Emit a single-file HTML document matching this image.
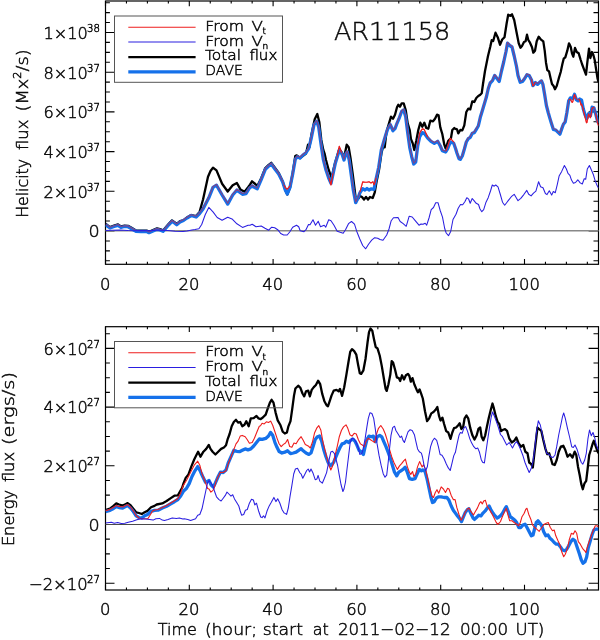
<!DOCTYPE html>
<html lang="en"><head><meta charset="utf-8"><title>AR11158 helicity and energy flux</title>
<style>html,body{margin:0;padding:0;background:#fff}svg{display:block}text{font-family:"DejaVu Sans Light","DejaVu Sans","Liberation Sans",sans-serif;font-weight:200;fill:#0a0a0a;stroke:#0a0a0a;stroke-width:0.5px}.fr{fill:none;stroke:#000;stroke-width:1.2}.tk{stroke:#000;stroke-width:1.1;fill:none}.c{fill:none;stroke-linejoin:round;stroke-linecap:butt}.k{stroke:#000;stroke-width:2.3}.d{stroke:#1571ea;stroke-width:3.3}.r{stroke:#ee1c1c;stroke-width:1.1}.b{stroke:#2a1ee0;stroke-width:1.05}.rf{stroke:#e01c30;stroke-width:1.1;stroke-opacity:.55}</style></head><body>
<svg width="600" height="640" viewBox="0 0 600 640">
<rect width="600" height="640" fill="#fff"/>
<clipPath id="c1"><rect x="105.5" y="1.0" width="493.0" height="263.3"/></clipPath>
<path class="tk" d="M105.50 264.3v-5.2M105.50 1.0v5.2M126.45 264.3v-2.6M126.45 1.0v2.6M147.40 264.3v-2.6M147.40 1.0v2.6M168.35 264.3v-2.6M168.35 1.0v2.6M189.30 264.3v-5.2M189.30 1.0v5.2M210.25 264.3v-2.6M210.25 1.0v2.6M231.20 264.3v-2.6M231.20 1.0v2.6M252.15 264.3v-2.6M252.15 1.0v2.6M273.10 264.3v-5.2M273.10 1.0v5.2M294.05 264.3v-2.6M294.05 1.0v2.6M315.00 264.3v-2.6M315.00 1.0v2.6M335.95 264.3v-2.6M335.95 1.0v2.6M356.90 264.3v-5.2M356.90 1.0v5.2M377.85 264.3v-2.6M377.85 1.0v2.6M398.80 264.3v-2.6M398.80 1.0v2.6M419.75 264.3v-2.6M419.75 1.0v2.6M440.70 264.3v-5.2M440.70 1.0v5.2M461.65 264.3v-2.6M461.65 1.0v2.6M482.60 264.3v-2.6M482.60 1.0v2.6M503.55 264.3v-2.6M503.55 1.0v2.6M524.50 264.3v-5.2M524.50 1.0v5.2M545.45 264.3v-2.6M545.45 1.0v2.6M566.40 264.3v-2.6M566.40 1.0v2.6M587.35 264.3v-2.6M587.35 1.0v2.6M105.5 260.77h4.4M598.5 260.77h-5.0M105.5 250.85h4.4M598.5 250.85h-5.0M105.5 240.93h4.4M598.5 240.93h-5.0M105.5 231.00h9.0M598.5 231.00h-9.9M105.5 221.07h4.4M598.5 221.07h-5.0M105.5 211.15h4.4M598.5 211.15h-5.0M105.5 201.22h4.4M598.5 201.22h-5.0M105.5 191.30h9.0M598.5 191.30h-9.9M105.5 181.38h4.4M598.5 181.38h-5.0M105.5 171.45h4.4M598.5 171.45h-5.0M105.5 161.52h4.4M598.5 161.52h-5.0M105.5 151.60h9.0M598.5 151.60h-9.9M105.5 141.68h4.4M598.5 141.68h-5.0M105.5 131.75h4.4M598.5 131.75h-5.0M105.5 121.82h4.4M598.5 121.82h-5.0M105.5 111.90h9.0M598.5 111.90h-9.9M105.5 101.97h4.4M598.5 101.97h-5.0M105.5 92.05h4.4M598.5 92.05h-5.0M105.5 82.12h4.4M598.5 82.12h-5.0M105.5 72.20h9.0M598.5 72.20h-9.9M105.5 62.27h4.4M598.5 62.27h-5.0M105.5 52.35h4.4M598.5 52.35h-5.0M105.5 42.42h4.4M598.5 42.42h-5.0M105.5 32.50h9.0M598.5 32.50h-9.9M105.5 22.57h4.4M598.5 22.57h-5.0M105.5 12.65h4.4M598.5 12.65h-5.0M105.5 2.72h4.4M598.5 2.72h-5.0"/>
<rect class="fr" x="105.5" y="1.0" width="493.0" height="263.3"/>
<line x1="105.5" x2="598.5" y1="230.7" y2="230.7" stroke="#888" stroke-width="1.5"/>
<g clip-path="url(#c1)">
<polyline class="c k" points="105.5,223.8 110.0,227.1 114.0,225.6 118.0,224.4 121.0,226.4 124.5,225.6 128.0,225.8 132.0,228.1 136.0,230.4 141.0,230.6 146.7,230.6 149.0,231.8 153.0,230.1 157.0,228.4 160.0,229.1 163.0,230.4 166.0,227.1 169.0,223.6 172.0,220.4 174.5,222.1 176.7,223.8 180.0,221.1 183.4,220.3 187.0,217.5 191.2,215.0 196.1,216.1 199.6,211.9 203.1,199.2 208.0,176.7 210.5,171.0 213.0,167.6 216.5,170.4 222.1,183.8 227.7,191.5 232.7,185.2 236.9,183.0 240.4,189.4 244.6,191.8 248.1,187.3 250.0,184.7 252.0,181.3 255.3,184.0 257.3,186.0 261.3,178.0 265.3,168.0 268.7,164.8 271.3,162.8 274.7,167.5 278.7,173.0 282.7,181.5 285.3,190.0 287.3,194.5 290.0,187.5 292.7,173.0 295.3,156.0 296.7,155.3 300.0,158.0 302.7,156.0 306.0,153.5 308.0,144.7 309.5,147.0 311.3,135.3 314.7,119.3 317.3,114.0 319.3,122.0 321.3,140.0 323.3,150.0 324.7,154.0 326.0,160.0 328.7,170.0 330.7,175.3 331.5,180.0 333.3,170.0 335.3,162.0 337.3,155.5 339.3,149.0 342.0,153.0 344.0,158.0 346.7,144.7 348.7,147.3 350.7,159.3 352.7,174.0 354.7,190.0 356.0,201.0 358.0,199.0 360.0,196.0 362.0,197.0 364.0,199.5 366.0,197.0 368.0,199.5 370.0,197.0 372.7,198.0 374.7,192.7 376.5,182.0 379.0,170.0 381.5,153.0 383.0,147.0 384.7,147.3 386.0,136.0 387.0,130.0 389.0,123.3 391.0,116.7 393.0,118.7 395.0,114.7 397.0,107.3 398.3,104.7 400.0,106.7 401.7,103.3 403.7,103.3 405.7,110.0 407.7,123.3 409.7,130.0 411.0,139.3 412.7,143.3 414.3,150.0 416.3,140.7 418.3,130.0 420.3,122.7 422.3,126.7 424.3,122.7 426.3,128.0 428.3,128.7 430.3,120.7 433.0,121.3 435.0,118.7 437.0,114.7 438.6,115.3 440.3,127.3 442.3,134.0 444.3,144.7 445.7,148.7 448.3,140.7 451.0,138.0 452.3,130.0 454.3,128.0 455.0,128.7 457.0,129.3 458.3,133.3 460.3,130.0 462.3,130.4 464.3,125.3 466.3,112.0 468.3,108.7 470.3,109.3 472.3,101.3 474.3,102.0 476.3,98.0 478.3,96.0 480.3,94.7 481.7,93.3 483.0,84.0 485.0,71.0 488.0,56.0 490.2,47.0 491.7,40.2 493.2,41.0 495.5,32.7 497.7,37.2 500.0,44.7 502.2,39.5 504.5,37.2 506.7,23.0 508.2,14.7 510.2,15.8 512.0,14.3 514.2,20.0 516.5,32.0 518.7,43.2 520.5,47.7 522.0,46.0 524.0,42.0 525.6,41.3 527.0,34.7 528.3,40.0 530.0,42.7 532.0,47.3 533.3,52.7 535.0,50.7 536.7,41.3 538.7,36.7 540.7,39.3 543.3,41.3 544.7,50.7 546.0,62.7 547.3,70.0 549.0,71.3 550.7,78.7 552.0,84.0 553.6,86.0 555.0,89.3 556.7,86.0 558.7,78.7 560.7,72.0 562.4,64.0 563.7,58.7 565.3,57.3 567.3,50.7 569.0,43.3 570.7,46.7 572.0,53.3 573.3,56.7 575.0,48.0 576.7,52.0 578.7,53.3 580.7,60.0 582.0,64.0 584.0,69.3 586.0,74.7 587.3,62.7 589.0,48.7 590.4,58.0 592.0,52.0 593.3,54.7 594.7,60.0 596.3,70.7 597.6,78.7 598.5,82.0"/>
<polyline class="c d" points="105.5,224.7 110.0,228.0 114.0,226.5 118.0,225.3 121.0,227.3 124.5,226.5 128.0,226.7 132.0,229.0 136.0,231.3 141.0,231.5 146.7,231.5 149.0,232.7 153.0,231.0 157.0,229.3 160.0,230.0 163.0,231.3 166.0,228.0 169.0,224.5 172.0,221.3 174.5,223.0 176.7,224.7 180.0,222.0 183.4,220.5 187.0,218.0 191.2,215.5 196.1,217.0 199.6,213.5 203.0,209.0 208.8,197.8 213.0,187.3 216.5,185.2 222.1,195.0 227.7,204.1 232.7,195.0 236.9,190.1 242.5,194.3 246.0,193.6 249.5,188.0 252.4,185.9 253.3,186.7 257.3,188.7 261.3,179.3 265.3,169.3 268.7,166.0 271.3,164.0 274.7,168.7 278.7,174.0 282.7,182.0 285.3,190.0 287.3,194.0 290.0,187.3 292.7,174.0 295.3,159.3 297.3,156.7 300.0,158.0 302.7,155.3 306.0,152.7 308.7,148.7 311.3,138.0 314.0,124.7 316.7,121.3 318.7,127.3 321.3,146.0 323.3,159.3 326.0,170.0 328.7,178.0 331.0,183.3 333.3,172.7 335.3,163.3 337.3,156.7 339.3,150.0 342.0,154.0 344.0,160.0 346.0,153.3 347.3,152.0 349.3,160.7 351.3,175.3 353.3,190.0 355.7,202.7 358.0,198.0 360.0,192.7 362.7,188.7 365.0,190.0 367.0,188.5 369.0,190.0 371.0,188.8 374.0,189.3 376.0,179.3 378.7,167.3 381.3,150.0 384.0,140.7 386.0,134.0 387.7,129.0 390.3,124.7 393.0,130.7 395.0,128.7 397.0,123.3 399.0,118.7 401.7,111.3 403.7,110.0 405.7,116.7 407.7,132.7 409.7,147.3 411.7,156.7 413.7,164.0 415.7,162.0 417.7,146.0 419.7,136.7 422.3,132.7 424.3,133.3 427.7,138.0 431.0,141.3 434.3,143.3 437.7,141.3 440.3,146.0 442.3,150.7 445.7,152.0 447.7,148.7 450.3,142.0 453.7,143.3 455.7,149.0 457.0,153.3 459.0,158.7 460.3,159.3 462.3,156.0 464.3,149.3 466.3,142.0 468.3,138.7 470.3,137.3 472.3,133.3 474.3,132.7 476.3,129.3 478.3,126.0 480.3,117.3 482.3,110.7 484.3,104.0 486.3,97.3 488.3,88.5 490.2,83.0 492.5,80.7 494.7,75.5 497.0,78.5 499.2,81.5 501.5,71.0 503.7,62.0 506.0,51.5 507.5,43.2 509.7,45.5 512.0,47.0 514.2,56.0 516.5,66.5 518.0,75.5 520.2,82.2 522.5,81.5 524.7,78.5 527.0,74.7 529.2,75.5 531.5,80.0 532.9,85.6 535.3,82.6 537.6,84.4 539.4,82.6 541.5,80.9 542.9,84.4 544.7,94.9 546.4,105.5 548.2,112.5 549.9,118.4 551.7,124.2 553.4,129.5 555.8,130.1 558.1,132.4 559.9,134.2 561.7,128.9 563.4,124.2 565.2,121.9 566.9,112.5 568.7,100.8 570.4,97.9 572.8,98.4 574.5,94.3 576.3,99.6 578.1,100.8 579.8,99.0 581.6,100.2 583.3,109.0 585.1,114.9 586.9,118.4 588.6,113.7 590.4,116.0 592.1,107.2 593.9,107.8 595.6,113.7 597.4,120.7 598.5,123.0"/>
<polyline class="c rf" points="105.5,223.9 110.0,227.2 114.0,225.7 118.0,224.5 121.0,226.5 124.5,225.7 128.0,225.9 132.0,228.2 136.0,230.5 141.0,230.7 146.7,230.7 149.0,231.9 153.0,230.2 157.0,228.5 160.0,229.2 163.0,230.5 166.0,227.2 169.0,223.7 172.0,220.5 174.5,222.2 176.7,223.9 180.0,221.2 183.4,219.7 187.0,217.2 191.2,214.7 196.1,216.2 199.6,212.7 203.0,208.2 208.8,197.0 213.0,186.5 216.5,184.4 222.1,194.2 227.7,203.3 232.7,194.2 236.9,189.3 242.5,193.5 246.0,192.8 249.5,187.2 252.4,185.1 253.3,185.9 257.3,187.9 261.3,178.5 265.3,168.5 268.7,165.2 271.3,163.2 274.7,167.9 278.7,173.2 282.7,181.2 284.0,185.2 285.3,187.6 287.3,189.2 290.0,185.9 290.5,184.0 292.7,173.2 295.3,158.5 297.3,155.9 300.0,157.2 302.7,154.5 306.0,151.9 308.7,147.9 311.3,137.2 314.0,123.9 316.7,120.5 318.7,126.5 321.3,145.2 323.3,158.5 326.0,169.2 328.7,177.2 329.0,177.9 331.0,185.0 333.0,173.3 333.3,171.9 335.3,162.5 337.0,156.9 337.3,155.5 339.3,146.2 341.5,152.5 342.0,153.2 344.0,159.2 346.0,152.5 347.3,151.2 349.3,159.9 351.3,174.5 353.3,189.2 355.7,201.9 358.0,197.2 360.0,191.9 362.7,181.9 365.0,182.2 367.0,182.2 369.0,181.7 371.0,183.0 373.0,181.8 374.0,184.8 375.0,182.5 376.0,178.0 377.0,174.1 378.7,166.5 381.3,149.2 384.0,139.9 386.0,133.2 387.7,128.2 390.3,123.9 393.0,129.9 395.0,127.9 397.0,122.5 399.0,117.9 401.7,110.5 403.7,109.2 405.7,115.9 407.7,131.9 409.7,146.5 411.7,155.9 413.7,163.2 415.7,161.2 417.0,150.8 417.7,144.5 419.7,133.2 420.0,132.4 422.3,128.9 424.0,129.4 424.3,129.7 427.7,137.0 428.0,137.5 431.0,140.5 434.3,142.5 437.7,140.5 440.3,145.2 442.3,149.9 445.7,151.2 446.0,150.7 447.7,146.6 450.0,139.0 450.3,138.4 453.0,141.2 453.7,141.7 455.7,148.1 456.0,149.2 457.0,152.5 459.0,157.9 460.3,158.5 462.3,155.2 464.3,148.5 466.3,141.2 468.3,137.9 470.3,136.5 472.3,132.5 474.3,131.9 476.3,128.5 478.3,125.2 480.3,116.5 482.3,109.9 484.3,103.2 486.3,96.5 488.3,87.7 490.2,82.2 492.5,79.9 494.7,74.7 497.0,77.7 499.2,80.7 501.5,70.2 503.7,61.2 506.0,50.7 507.5,42.4 509.7,44.7 512.0,46.2 514.2,55.2 516.5,65.7 518.0,74.7 520.2,81.4 522.5,80.7 524.7,77.7 527.0,73.9 529.2,74.7 531.0,78.2 531.5,79.5 532.9,85.9 533.7,85.3 535.3,82.3 536.0,82.3 537.6,83.6 539.4,81.8 541.5,80.1 542.9,83.6 544.7,94.1 546.4,104.7 548.2,111.7 549.9,117.6 551.7,123.4 553.4,128.7 555.8,129.3 558.1,131.6 559.9,133.4 561.7,128.1 563.4,123.4 565.2,121.1 566.9,111.7 568.7,100.0 569.0,99.5 570.4,99.3 572.2,102.5 572.8,101.6 574.5,94.5 576.3,99.1 577.0,99.3 578.1,100.0 579.0,99.0 579.8,100.6 581.0,105.0 581.6,104.2 583.0,108.6 583.3,110.3 585.0,116.8 585.1,117.3 586.5,122.8 586.9,122.6 588.6,113.9 590.4,117.7 591.0,115.1 592.1,108.3 593.9,107.1 594.0,107.3 595.6,113.7 596.0,115.5 597.4,122.3 598.5,125.7"/>
<polyline class="c r" points="284.0,185.2 285.3,187.6 287.3,189.2 290.0,185.9"/>
<polyline class="c r" points="329.0,177.9 331.0,185.0 333.0,173.3"/>
<polyline class="c r" points="337.3,155.5 339.3,146.2 341.5,152.5"/>
<polyline class="c r" points="360.0,191.9 362.7,181.9 365.0,182.2 367.0,182.2 369.0,181.7 371.0,183.0 373.0,181.8 374.0,184.8 375.0,182.5 376.0,178.0"/>
<polyline class="c r" points="417.7,144.5 419.7,133.2 420.0,132.4 422.3,128.9 424.0,129.4 424.3,129.7 427.7,137.0"/>
<polyline class="c r" points="446.0,150.7 447.7,146.6 450.0,139.0 450.3,138.4 453.0,141.2 453.7,141.7"/>
<polyline class="c r" points="531.5,79.5 532.9,85.9 533.7,85.3 535.3,82.3"/>
<polyline class="c r" points="569.0,99.5 570.4,99.3 572.2,102.5 572.8,101.6 574.5,94.5 576.3,99.1"/>
<polyline class="c r" points="579.0,99.0 579.8,100.6 581.0,105.0 581.6,104.2 583.0,108.6 583.3,110.3 585.0,116.8 585.1,117.3 586.5,122.8 586.9,122.6 588.6,113.9 590.4,117.7 591.0,115.1 592.1,108.3 593.9,107.1"/>
<polyline class="c r" points="595.6,113.7 596.0,115.5 597.4,122.3 598.5,125.7"/>
<polyline class="c b" points="105.5,230.5 112.0,230.2 120.0,230.0 128.0,230.6 135.0,230.8 142.0,230.4 150.0,230.8 156.0,230.2 160.0,230.3 168.0,230.5 175.0,231.3 183.0,231.6 187.0,231.0 191.9,229.9 195.0,229.6 198.9,228.8 201.7,224.5 205.2,214.7 208.8,207.4 213.0,211.9 217.2,217.5 222.1,220.3 227.7,217.2 232.0,218.9 236.9,223.8 242.5,227.4 248.1,225.2 250.0,225.2 252.2,224.2 256.0,226.7 261.2,226.0 265.0,228.2 268.7,230.2 271.7,227.2 274.7,227.8 277.7,229.7 280.7,233.5 283.7,235.0 287.2,235.0 289.7,232.0 292.7,227.2 296.5,225.2 298.7,226.7 300.2,230.8 304.0,231.7 306.2,229.3 308.5,224.5 310.0,224.8 313.0,219.7 315.5,225.2 318.2,221.2 320.5,226.7 324.2,225.2 325.7,227.2 328.7,219.7 331.0,220.7 334.0,225.2 337.2,231.2 340.2,232.3 343.2,233.2 345.5,229.7 348.5,223.7 351.5,221.5 354.5,224.2 356.7,231.2 359.7,238.7 362.7,245.5 365.7,248.8 368.7,244.0 371.7,240.2 374.7,237.7 377.7,238.3 380.0,239.5 383.0,240.2 386.7,235.0 389.0,229.0 391.2,220.7 393.5,217.7 398.0,217.4 400.2,221.5 403.2,223.7 406.2,226.3 409.2,216.2 412.2,217.0 415.2,220.7 419.0,225.2 421.0,224.0 423.0,224.3 425.2,223.2 426.7,225.2 429.0,218.0 431.2,209.7 433.5,207.5 435.7,202.7 438.0,202.7 440.2,210.5 442.5,217.2 444.7,228.5 446.2,233.0 448.5,235.7 450.7,231.5 453.0,219.5 456.0,214.2 458.2,208.2 460.5,204.5 462.7,204.8 465.0,201.5 466.8,197.7 468.7,199.2 470.2,203.3 472.2,198.5 474.0,200.7 476.2,203.3 478.5,204.5 480.0,209.0 481.8,211.7 483.7,209.7 486.0,202.2 488.2,197.7 490.5,191.0 492.3,185.0 494.2,186.2 495.7,185.0 498.0,186.8 500.2,194.0 502.5,202.2 504.7,205.2 507.0,202.2 508.2,200.7 511.3,196.7 514.2,194.3 516.1,197.5 518.0,200.7 520.8,198.3 524.0,194.3 526.8,190.4 528.7,194.3 531.1,195.9 533.5,193.1 535.9,191.2 538.6,181.7 540.6,186.7 543.0,187.7 545.4,193.5 547.0,194.6 549.3,190.8 551.7,195.1 553.3,191.5 555.3,192.7 557.2,184.8 559.1,176.1 561.7,171.4 564.4,165.5 566.4,169.0 568.0,173.4 569.9,175.3 571.5,180.1 573.4,183.2 575.5,182.5 577.8,179.8 580.2,182.9 582.3,184.0 584.2,178.8 585.7,179.3 587.3,169.0 589.4,165.5 591.3,169.8 593.3,174.5 595.2,180.9 597.1,185.6 598.5,188.0"/>
</g>
<text x="105.2" y="289.5" font-size="16.4" text-anchor="middle">0</text>
<text x="189.0" y="289.5" font-size="16.4" text-anchor="middle">20</text>
<text x="272.8" y="289.5" font-size="16.4" text-anchor="middle">40</text>
<text x="356.6" y="289.5" font-size="16.4" text-anchor="middle">60</text>
<text x="440.4" y="289.5" font-size="16.4" text-anchor="middle">80</text>
<text x="524.2" y="289.5" font-size="16.4" text-anchor="middle">100</text>
<text x="43.4" y="38.8" font-size="16.4" textLength="44.4" lengthAdjust="spacingAndGlyphs">1×10</text>
<text x="87.0" y="31.8" font-size="10.6" textLength="12.9" lengthAdjust="spacingAndGlyphs">38</text>
<text x="43.4" y="78.5" font-size="16.4" textLength="44.4" lengthAdjust="spacingAndGlyphs">8×10</text>
<text x="87.0" y="71.5" font-size="10.6" textLength="12.9" lengthAdjust="spacingAndGlyphs">37</text>
<text x="43.4" y="118.2" font-size="16.4" textLength="44.4" lengthAdjust="spacingAndGlyphs">6×10</text>
<text x="87.0" y="111.2" font-size="10.6" textLength="12.9" lengthAdjust="spacingAndGlyphs">37</text>
<text x="43.4" y="157.9" font-size="16.4" textLength="44.4" lengthAdjust="spacingAndGlyphs">4×10</text>
<text x="87.0" y="150.9" font-size="10.6" textLength="12.9" lengthAdjust="spacingAndGlyphs">37</text>
<text x="43.4" y="197.6" font-size="16.4" textLength="44.4" lengthAdjust="spacingAndGlyphs">2×10</text>
<text x="87.0" y="190.6" font-size="10.6" textLength="12.9" lengthAdjust="spacingAndGlyphs">37</text>
<text x="88.5" y="237.3" font-size="16.4" textLength="11.2" lengthAdjust="spacingAndGlyphs">0</text>
<rect x="114.5" y="16" width="168" height="66.3" fill="none" stroke="#555" stroke-width="1"/>
<line class="c r" x1="128.3" x2="195.6" y1="27.2" y2="27.2"/>
<line class="c b" x1="128.3" x2="195.6" y1="41.9" y2="41.9"/>
<line class="c k" x1="128.3" x2="195.6" y1="57.1" y2="57.1"/>
<line class="c d" x1="128.3" x2="195.6" y1="71.8" y2="71.8"/>
<text x="205.3" y="30.8" font-size="14.4" textLength="38.7" lengthAdjust="spacingAndGlyphs">From</text>
<text x="251.6" y="30.8" font-size="14.4" textLength="11.4" lengthAdjust="spacingAndGlyphs">V</text>
<text x="262.4" y="34.4" font-size="9">t</text>
<text x="205.3" y="45.5" font-size="14.4" textLength="38.7" lengthAdjust="spacingAndGlyphs">From</text>
<text x="251.6" y="45.5" font-size="14.4" textLength="11.4" lengthAdjust="spacingAndGlyphs">V</text>
<text x="262.4" y="49.1" font-size="9">n</text>
<text x="204.9" y="60.3" font-size="14.4" textLength="36.1" lengthAdjust="spacingAndGlyphs">Total</text>
<text x="249.4" y="60.3" font-size="14.4" textLength="27.9" lengthAdjust="spacingAndGlyphs">flux</text>
<text x="205.3" y="75.3" font-size="14.4" textLength="37.4" lengthAdjust="spacingAndGlyphs">DAVE</text>
<text transform="translate(28.4,217.8) rotate(-90)" font-size="16.4" textLength="58.8" lengthAdjust="spacingAndGlyphs">Helicity</text>
<text transform="translate(28.4,149.9) rotate(-90)" font-size="16.4" textLength="30.2" lengthAdjust="spacingAndGlyphs">flux</text>
<text transform="translate(28.4,111.5) rotate(-90)" font-size="16.4" textLength="62.2" lengthAdjust="spacingAndGlyphs">(Mx<tspan font-size="10.4" dy="-7">2</tspan><tspan dy="7">/s)</tspan></text>
<text style="stroke-width:0.4px" x="333.9" y="40.0" font-size="24" textLength="116.4" lengthAdjust="spacingAndGlyphs">AR11158</text>
<clipPath id="c326"><rect x="105.5" y="326.7" width="493.0" height="263.3"/></clipPath>
<path class="tk" d="M105.50 590.0v-5.2M105.50 326.7v5.2M126.45 590.0v-2.6M126.45 326.7v2.6M147.40 590.0v-2.6M147.40 326.7v2.6M168.35 590.0v-2.6M168.35 326.7v2.6M189.30 590.0v-5.2M189.30 326.7v5.2M210.25 590.0v-2.6M210.25 326.7v2.6M231.20 590.0v-2.6M231.20 326.7v2.6M252.15 590.0v-2.6M252.15 326.7v2.6M273.10 590.0v-5.2M273.10 326.7v5.2M294.05 590.0v-2.6M294.05 326.7v2.6M315.00 590.0v-2.6M315.00 326.7v2.6M335.95 590.0v-2.6M335.95 326.7v2.6M356.90 590.0v-5.2M356.90 326.7v5.2M377.85 590.0v-2.6M377.85 326.7v2.6M398.80 590.0v-2.6M398.80 326.7v2.6M419.75 590.0v-2.6M419.75 326.7v2.6M440.70 590.0v-5.2M440.70 326.7v5.2M461.65 590.0v-2.6M461.65 326.7v2.6M482.60 590.0v-2.6M482.60 326.7v2.6M503.55 590.0v-2.6M503.55 326.7v2.6M524.50 590.0v-5.2M524.50 326.7v5.2M545.45 590.0v-2.6M545.45 326.7v2.6M566.40 590.0v-2.6M566.40 326.7v2.6M587.35 590.0v-2.6M587.35 326.7v2.6M105.5 583.20h9.0M598.5 583.20h-9.9M105.5 568.52h4.4M598.5 568.52h-5.0M105.5 553.85h4.4M598.5 553.85h-5.0M105.5 539.17h4.4M598.5 539.17h-5.0M105.5 524.50h9.0M598.5 524.50h-9.9M105.5 509.82h4.4M598.5 509.82h-5.0M105.5 495.15h4.4M598.5 495.15h-5.0M105.5 480.48h4.4M598.5 480.48h-5.0M105.5 465.80h9.0M598.5 465.80h-9.9M105.5 451.12h4.4M598.5 451.12h-5.0M105.5 436.45h4.4M598.5 436.45h-5.0M105.5 421.77h4.4M598.5 421.77h-5.0M105.5 407.10h9.0M598.5 407.10h-9.9M105.5 392.42h4.4M598.5 392.42h-5.0M105.5 377.75h4.4M598.5 377.75h-5.0M105.5 363.07h4.4M598.5 363.07h-5.0M105.5 348.40h9.0M598.5 348.40h-9.9M105.5 333.73h4.4M598.5 333.73h-5.0"/>
<rect class="fr" x="105.5" y="326.7" width="493.0" height="263.3"/>
<line x1="105.5" x2="598.5" y1="524.5" y2="524.5" stroke="#4a4a4a" stroke-width="1.0"/>
<g clip-path="url(#c326)">
<polyline class="c k" points="105.5,510.2 109.9,508.7 113.5,505.9 116.3,503.4 119.1,504.5 122.7,505.6 125.5,504.2 127.6,503.1 130.5,505.2 133.3,508.7 136.1,512.3 139.0,513.0 141.8,514.0 144.6,512.3 147.5,510.9 151.0,507.3 154.5,505.9 156.7,504.5 162.3,503.4 166.6,501.0 170.8,498.1 174.4,495.7 177.9,495.3 180.7,490.3 182.1,487.8 183.6,483.2 185.7,477.9 188.5,474.4 191.3,466.6 194.2,459.5 196.3,455.2 198.1,451.7 200.5,456.7 203.4,451.7 206.2,448.9 208.8,445.0 210.5,448.9 212.6,451.7 215.4,454.5 218.2,451.7 221.1,448.9 223.9,447.5 226.0,445.3 227.5,439.7 229.6,434.0 231.7,426.2 233.8,422.0 236.0,419.8 238.1,422.7 240.2,422.0 242.3,426.2 244.5,424.8 246.3,421.2 248.7,426.2 250.8,418.4 253.7,418.1 256.5,415.9 258.6,418.4 260.7,419.1 262.8,417.5 265.7,414.7 267.8,408.3 269.9,402.7 271.6,399.8 273.5,402.7 275.6,412.6 277.7,420.4 280.5,425.3 282.7,431.7 284.8,433.5 286.9,432.4 288.3,426.7 290.5,421.1 292.3,408.3 294.0,395.6 295.4,388.5 298.2,385.7 300.4,387.8 302.5,393.5 304.2,396.3 306.0,391.3 308.2,390.6 309.9,396.3 311.7,389.9 313.8,387.1 315.9,385.0 318.1,380.7 320.2,384.2 322.3,394.2 324.4,401.2 326.6,405.2 328.0,406.2 329.7,401.2 331.5,395.6 333.7,390.6 336.5,389.9 338.6,391.3 340.0,388.9 342.1,395.8 344.2,387.3 346.4,374.6 348.5,361.8 350.2,351.9 352.0,349.1 354.2,351.2 356.3,354.7 358.1,364.7 359.8,373.2 361.2,373.9 363.4,370.3 365.5,359.0 367.6,342.0 369.0,332.1 370.5,328.5 372.3,330.7 374.0,339.2 375.7,347.0 377.5,348.4 379.7,355.5 381.8,366.1 383.9,378.8 385.6,388.7 386.7,390.9 388.4,384.5 390.3,374.6 391.7,361.1 393.1,362.5 395.2,370.3 396.9,377.4 398.8,378.1 400.2,381.0 402.0,375.3 404.0,379.5 405.9,375.3 408.0,373.9 409.4,376.0 410.8,381.7 412.5,378.1 414.4,384.5 416.5,389.4 417.9,392.3 419.6,389.4 421.4,394.4 422.8,398.5 425.0,411.2 427.1,421.2 429.2,418.3 431.3,413.4 433.5,412.0 435.6,409.8 437.3,407.0 439.1,416.2 440.5,420.5 442.4,417.6 444.1,424.0 446.2,431.1 448.3,432.5 450.5,438.9 452.3,432.5 454.0,428.2 456.1,427.5 458.0,425.4 459.7,423.3 461.4,429.0 463.2,426.8 464.6,418.3 466.5,415.5 468.2,418.3 470.3,428.2 472.4,435.3 474.5,439.6 476.7,435.3 478.4,429.0 480.2,427.5 481.6,436.7 483.3,440.3 485.2,435.3 486.9,426.8 488.7,418.3 490.8,409.8 492.5,403.5 493.9,408.4 495.8,416.2 497.6,421.9 499.3,424.0 501.0,431.1 502.5,430.0 505.0,429.2 507.0,430.8 509.2,438.3 511.7,442.5 514.2,440.8 516.3,437.5 518.3,442.5 520.8,446.7 523.3,445.0 525.3,451.7 527.5,453.3 529.2,462.5 531.3,464.2 532.8,467.5 534.2,455.0 535.8,441.7 537.5,427.5 539.2,429.2 541.3,430.8 543.3,440.0 545.3,448.3 547.2,454.2 549.2,453.3 550.8,458.3 552.5,464.2 554.7,465.0 556.7,460.0 558.7,451.7 560.8,446.7 563.3,445.8 565.3,450.0 567.5,456.7 570.0,454.2 572.5,457.5 574.7,451.7 576.3,455.0 578.0,466.7 579.7,475.0 581.3,484.2 582.8,489.2 584.5,483.3 586.2,480.8 587.5,470.0 589.2,455.0 590.8,450.0 592.5,444.2 593.8,440.8 595.3,445.0 597.0,450.0 598.5,453.3"/>
<polyline class="c d" points="105.5,511.6 110.0,510.4 113.5,508.5 116.3,506.6 119.0,507.5 122.7,508.0 125.5,506.6 127.6,505.6 130.5,508.0 133.3,511.6 136.1,515.8 139.0,517.5 141.8,518.0 144.6,515.8 147.5,514.4 151.0,511.3 154.5,510.4 158.0,510.2 162.3,508.0 166.6,506.2 170.8,503.8 174.4,501.7 177.9,499.5 180.7,496.0 183.6,491.0 186.4,488.5 189.2,483.6 192.0,476.5 194.9,470.8 197.7,466.6 199.8,470.1 202.7,476.5 205.5,482.2 207.0,481.8 209.0,480.5 211.2,485.0 213.3,487.1 215.4,482.9 218.2,476.5 220.4,472.2 223.2,472.5 226.0,470.0 228.2,463.0 231.0,456.7 233.8,450.3 236.7,451.3 239.5,451.7 242.3,450.3 245.2,448.9 248.0,449.9 250.8,448.9 253.7,446.0 256.5,442.5 259.3,439.0 262.2,439.4 265.7,438.4 268.5,436.0 270.6,432.4 272.7,435.2 274.9,442.3 277.0,447.3 279.1,451.5 282.0,453.0 284.8,452.2 287.6,450.8 290.5,453.7 293.3,453.0 296.1,452.2 299.0,450.1 301.1,448.7 303.2,450.8 306.0,453.0 308.9,454.4 311.0,453.0 313.1,446.6 315.2,439.5 317.4,436.7 319.5,436.0 321.6,440.9 323.7,449.4 325.9,456.5 328.0,462.2 330.1,465.7 331.5,465.0 333.7,462.2 335.8,457.2 337.9,452.2 340.0,447.5 342.1,443.9 344.2,443.2 346.4,441.1 348.5,442.5 350.6,440.4 352.7,439.0 354.9,441.1 357.0,445.3 359.1,450.3 361.2,451.7 363.4,454.5 364.8,448.2 366.9,439.7 369.0,436.1 371.2,436.8 373.3,436.1 375.4,441.8 377.1,436.8 379.7,435.4 381.8,436.8 383.9,441.8 386.0,446.7 388.2,452.4 390.3,458.1 392.4,465.2 394.5,472.2 396.7,475.8 398.8,472.2 400.9,470.8 403.0,469.4 405.2,467.3 407.3,472.2 409.4,478.6 412.2,479.3 415.1,478.6 417.2,473.7 419.3,469.4 421.4,470.8 422.8,469.9 425.0,471.3 427.1,479.1 429.2,489.0 431.0,497.5 432.5,502.5 434.2,501.7 436.3,498.2 438.4,496.8 441.2,496.8 444.1,497.5 446.9,497.5 449.0,500.3 451.2,506.0 453.3,510.2 455.4,513.1 457.5,515.9 459.7,518.7 461.5,521.6 463.2,517.3 465.3,512.4 467.5,509.5 468.9,508.8 471.0,513.8 473.1,518.0 474.5,519.4 476.7,517.3 478.8,515.2 480.9,515.9 483.0,513.1 485.2,510.9 487.3,508.1 489.1,506.0 490.8,509.5 492.9,513.1 495.1,515.9 497.2,518.0 498.6,517.3 500.7,515.5 502.5,513.3 504.7,509.2 506.3,506.7 508.3,511.7 510.3,516.7 512.5,518.3 514.7,520.0 516.7,522.5 518.7,527.5 520.8,527.5 523.0,525.0 525.0,524.2 527.0,527.5 529.2,531.7 531.3,535.8 533.0,535.0 534.7,528.3 536.3,522.5 538.0,520.8 540.0,523.3 541.7,525.8 543.7,531.7 545.8,535.8 548.0,535.0 550.0,538.3 552.0,540.0 554.2,542.5 556.3,544.2 558.3,544.2 560.3,546.7 562.5,550.0 564.7,550.8 566.7,549.2 568.7,545.8 570.8,541.7 573.0,539.2 575.0,540.8 577.0,546.7 579.2,553.3 581.3,560.0 583.0,563.3 585.0,561.7 586.7,556.7 588.3,547.5 590.0,541.7 592.0,535.0 593.8,530.0 595.8,529.2 598.5,529.2"/>
<polyline class="c r" points="105.5,510.8 110.0,509.4 113.5,507.3 116.3,505.4 119.0,506.4 122.7,507.0 125.5,505.6 127.6,504.6 130.5,507.0 133.3,510.8 136.1,515.5 139.0,518.0 141.8,518.7 145.0,518.8 148.0,518.5 150.5,514.5 152.5,511.0 154.5,510.0 158.0,509.5 162.3,507.5 166.6,505.5 170.8,503.0 174.4,500.8 177.9,498.5 180.7,493.0 182.8,486.4 187.1,479.3 190.6,472.2 194.2,465.2 197.7,461.2 199.8,465.2 202.0,473.7 204.8,480.7 207.6,488.5 209.0,489.0 210.9,492.1 213.0,490.4 214.5,487.0 216.1,481.4 218.2,476.5 220.4,472.2 223.2,472.5 226.0,470.8 228.2,463.7 231.0,456.7 233.8,449.6 236.0,443.9 238.1,441.1 240.2,436.1 242.3,435.4 245.2,436.8 247.3,439.7 249.4,443.2 252.2,442.5 254.4,438.2 257.2,431.2 259.3,426.2 260.5,425.8 262.1,423.2 264.2,423.9 266.4,421.8 268.5,422.5 270.6,421.1 272.7,425.3 274.9,431.7 277.0,438.1 279.1,443.7 281.2,446.6 283.4,444.4 285.5,443.0 287.6,439.5 289.7,446.6 291.9,447.3 294.0,443.0 296.1,443.7 298.2,440.2 301.1,436.7 303.2,440.2 305.3,444.4 308.2,445.9 310.3,448.0 312.4,442.3 314.5,433.1 316.7,428.2 318.8,425.6 320.9,430.3 323.0,442.3 325.2,450.8 327.3,459.3 329.4,466.4 330.8,470.0 333.0,465.0 335.1,455.1 337.2,446.6 339.3,436.7 341.4,430.5 343.5,426.9 346.0,424.8 347.8,428.3 349.9,434.7 352.0,436.1 354.2,433.3 356.3,434.0 358.4,439.7 360.5,443.9 362.7,445.3 364.4,446.7 366.2,441.1 368.3,438.2 370.5,439.7 372.6,441.1 374.7,442.5 376.5,434.0 378.5,428.3 380.8,425.5 383.2,429.0 385.3,434.0 387.5,441.1 389.6,449.6 391.7,456.7 393.8,462.3 395.9,466.6 397.4,469.4 399.5,465.9 401.6,463.7 403.7,460.9 405.4,459.2 407.3,466.6 409.4,472.2 410.8,474.4 412.5,471.5 413.9,476.5 415.8,473.7 417.6,466.6 419.6,461.6 420.5,463.5 422.1,467.0 423.5,464.9 425.7,469.9 427.8,479.1 429.9,488.3 432.0,496.1 433.5,497.5 435.3,492.5 437.0,489.7 438.7,493.2 441.2,486.9 443.4,489.0 445.5,492.5 447.6,488.3 449.0,489.0 451.2,495.4 453.3,499.6 455.1,499.6 456.8,507.4 459.0,514.5 461.1,520.2 463.2,517.0 465.3,512.0 467.5,509.0 468.9,508.0 471.0,511.7 473.5,515.0 475.2,511.7 477.4,508.1 479.5,503.2 480.9,501.7 482.3,503.9 483.7,501.0 485.4,500.3 487.3,506.7 489.4,509.5 491.5,513.1 493.7,517.3 495.8,521.6 497.6,524.4 499.3,523.0 500.5,521.5 502.0,517.5 504.2,512.5 506.3,508.3 508.0,515.0 509.7,520.8 512.0,520.8 514.2,522.5 516.7,524.2 518.7,525.8 520.3,522.5 522.0,516.7 524.2,513.3 525.8,509.2 527.0,508.3 528.7,514.2 530.8,519.2 532.5,525.0 534.7,527.5 536.7,529.2 539.2,531.3 541.7,527.5 544.2,524.2 546.3,523.3 548.3,522.5 550.3,527.5 552.5,530.8 554.2,530.0 555.8,535.8 558.0,540.8 560.0,545.0 561.7,551.7 563.7,556.7 565.3,554.2 567.5,548.3 569.2,540.0 571.3,533.3 573.3,534.2 575.0,530.8 576.7,533.3 578.3,541.7 580.3,544.2 582.5,548.3 584.7,550.8 585.8,552.5 587.5,546.7 589.7,540.0 591.7,534.2 593.7,529.2 595.3,525.8 597.0,525.8 598.5,527.0"/>
<polyline class="c b" points="105.5,522.9 111.3,522.2 114.2,523.3 117.7,522.6 121.2,523.6 124.8,523.3 128.3,522.2 132.6,521.2 136.8,519.8 141.1,518.7 145.3,518.9 149.6,519.4 153.1,520.1 155.9,518.7 159.5,518.4 162.3,520.1 164.4,520.5 168.0,519.4 172.2,517.9 176.5,518.4 179.3,517.9 182.9,518.9 184.2,518.7 187.8,519.4 190.6,520.4 193.5,519.4 195.6,518.7 197.7,515.2 199.8,514.5 202.0,508.8 204.1,498.9 206.2,489.0 207.6,482.6 209.0,480.5 211.2,483.3 213.3,486.9 214.7,491.8 216.5,496.8 219.0,499.6 221.1,501.0 223.2,498.2 225.3,495.4 227.0,492.1 228.9,494.0 231.0,496.1 232.7,494.7 234.5,498.9 236.7,502.5 238.8,506.0 240.2,511.0 241.6,515.2 243.7,514.5 245.4,510.2 247.3,509.5 249.4,503.2 251.5,499.2 253.4,500.0 254.8,504.9 256.5,503.2 258.6,511.0 260.7,517.0 262.1,517.6 263.5,515.8 265.0,517.9 267.1,510.8 269.2,505.9 271.3,502.3 273.9,497.4 275.9,501.6 277.7,498.8 279.8,503.0 282.0,509.4 284.1,512.9 286.6,514.4 288.3,508.0 290.0,496.7 291.9,485.3 293.7,474.0 295.4,469.0 297.5,468.3 299.7,472.6 301.1,474.0 302.8,478.2 304.6,474.7 306.7,470.5 308.2,469.0 309.6,471.9 311.0,469.0 313.1,473.3 315.2,479.7 316.9,479.0 318.1,475.4 319.8,481.1 322.3,483.2 324.4,478.2 326.6,472.6 328.0,465.5 329.4,458.4 330.8,452.0 332.5,451.3 334.4,453.5 335.8,458.4 337.6,465.5 339.3,475.4 341.0,484.5 342.9,491.5 344.0,489.0 345.5,482.0 346.8,470.8 348.5,456.7 350.2,442.5 352.0,438.2 354.2,439.0 356.3,442.5 358.4,448.2 359.8,454.5 362.0,453.1 363.4,447.5 365.2,438.2 366.9,426.9 368.3,418.4 370.0,412.7 371.9,413.5 373.7,418.4 375.4,429.7 377.1,443.9 379.0,455.2 381.1,465.2 383.2,473.7 385.0,477.2 386.7,475.1 388.2,462.3 389.6,448.2 391.0,435.4 392.7,427.6 394.5,426.2 395.9,430.5 398.1,434.0 400.2,437.5 401.6,436.1 403.0,440.4 404.4,442.5 406.3,436.8 408.0,431.9 410.1,429.7 412.2,430.5 414.4,434.7 415.8,441.1 417.6,448.9 419.3,451.7 421.4,453.1 422.5,457.0 424.0,465.1 425.7,470.7 427.4,466.5 428.8,456.6 430.6,446.7 432.5,441.0 434.4,438.2 436.7,440.3 438.4,446.7 440.1,454.4 442.0,455.2 444.1,458.7 446.2,463.7 448.3,467.9 450.2,470.5 451.9,463.7 453.7,455.9 455.4,452.3 457.1,443.8 459.0,435.3 460.4,432.5 462.2,433.2 463.9,428.2 465.6,426.5 467.5,431.1 469.6,438.2 471.7,443.1 473.8,446.7 475.9,448.8 477.8,448.1 479.5,452.3 481.2,459.4 482.6,462.2 484.4,462.9 485.9,452.3 487.7,439.6 489.4,428.2 491.1,417.6 492.5,412.0 494.4,416.2 496.5,421.9 498.6,428.2 500.5,434.5 502.5,436.7 505.0,441.7 506.7,445.0 509.2,442.5 510.8,445.0 512.5,448.0 514.7,443.7 516.7,441.7 518.7,445.3 520.8,450.0 523.0,455.8 525.0,462.5 527.0,467.5 529.2,472.5 531.3,468.3 533.0,461.7 534.7,448.3 536.3,433.3 538.3,420.8 540.3,425.0 542.5,435.0 544.7,445.0 546.7,453.3 548.7,454.2 550.8,456.7 553.0,457.5 555.0,455.0 556.7,446.7 558.7,435.0 560.8,425.0 562.5,416.7 563.7,413.0 565.3,418.3 567.5,428.3 569.7,437.5 571.7,446.7 573.3,447.5 575.0,445.0 577.0,449.2 579.2,456.7 581.3,462.5 582.8,464.2 584.7,460.0 586.3,453.3 588.0,438.3 589.5,430.0 591.3,435.8 593.0,432.5 594.7,437.5 596.3,445.0 598.5,450.0"/>
</g>
<text x="105.2" y="615.2" font-size="16.4" text-anchor="middle">0</text>
<text x="189.0" y="615.2" font-size="16.4" text-anchor="middle">20</text>
<text x="272.8" y="615.2" font-size="16.4" text-anchor="middle">40</text>
<text x="356.6" y="615.2" font-size="16.4" text-anchor="middle">60</text>
<text x="440.4" y="615.2" font-size="16.4" text-anchor="middle">80</text>
<text x="524.2" y="615.2" font-size="16.4" text-anchor="middle">100</text>
<text x="43.4" y="354.7" font-size="16.4" textLength="44.4" lengthAdjust="spacingAndGlyphs">6×10</text>
<text x="87.0" y="347.7" font-size="10.6" textLength="12.9" lengthAdjust="spacingAndGlyphs">27</text>
<text x="43.4" y="413.4" font-size="16.4" textLength="44.4" lengthAdjust="spacingAndGlyphs">4×10</text>
<text x="87.0" y="406.4" font-size="10.6" textLength="12.9" lengthAdjust="spacingAndGlyphs">27</text>
<text x="43.4" y="472.1" font-size="16.4" textLength="44.4" lengthAdjust="spacingAndGlyphs">2×10</text>
<text x="87.0" y="465.1" font-size="10.6" textLength="12.9" lengthAdjust="spacingAndGlyphs">27</text>
<text x="88.5" y="530.8" font-size="16.4" textLength="11.2" lengthAdjust="spacingAndGlyphs">0</text>
<text x="28.9" y="589.5" font-size="16.4" textLength="58.9" lengthAdjust="spacingAndGlyphs">−2×10</text>
<text x="87.0" y="582.5" font-size="10.6" textLength="12.9" lengthAdjust="spacingAndGlyphs">27</text>
<rect x="114.5" y="341.5" width="168" height="66.3" fill="none" stroke="#555" stroke-width="1"/>
<line class="c r" x1="128.3" x2="195.6" y1="352.7" y2="352.7"/>
<line class="c b" x1="128.3" x2="195.6" y1="367.4" y2="367.4"/>
<line class="c k" x1="128.3" x2="195.6" y1="382.6" y2="382.6"/>
<line class="c d" x1="128.3" x2="195.6" y1="397.3" y2="397.3"/>
<text x="205.3" y="356.3" font-size="14.4" textLength="38.7" lengthAdjust="spacingAndGlyphs">From</text>
<text x="251.6" y="356.3" font-size="14.4" textLength="11.4" lengthAdjust="spacingAndGlyphs">V</text>
<text x="262.4" y="359.9" font-size="9">t</text>
<text x="205.3" y="371.0" font-size="14.4" textLength="38.7" lengthAdjust="spacingAndGlyphs">From</text>
<text x="251.6" y="371.0" font-size="14.4" textLength="11.4" lengthAdjust="spacingAndGlyphs">V</text>
<text x="262.4" y="374.6" font-size="9">n</text>
<text x="204.9" y="385.8" font-size="14.4" textLength="36.1" lengthAdjust="spacingAndGlyphs">Total</text>
<text x="249.4" y="385.8" font-size="14.4" textLength="27.9" lengthAdjust="spacingAndGlyphs">flux</text>
<text x="205.3" y="400.8" font-size="14.4" textLength="37.4" lengthAdjust="spacingAndGlyphs">DAVE</text>
<text transform="translate(14.4,546.1) rotate(-90)" font-size="16.4" textLength="56.1" lengthAdjust="spacingAndGlyphs">Energy</text>
<text transform="translate(14.4,482.1) rotate(-90)" font-size="16.4" textLength="30.1" lengthAdjust="spacingAndGlyphs">flux</text>
<text transform="translate(14.4,445.1) rotate(-90)" font-size="16.4" textLength="73.1" lengthAdjust="spacingAndGlyphs">(ergs/s)</text>
<text x="157.7" y="635.0" font-size="16.4" textLength="39.3" lengthAdjust="spacingAndGlyphs">Time</text>
<text x="204.9" y="635.0" font-size="16.4" textLength="52.1" lengthAdjust="spacingAndGlyphs">(hour;</text>
<text x="262.7" y="635.0" font-size="16.4" textLength="40.3" lengthAdjust="spacingAndGlyphs">start</text>
<text x="312.7" y="635.0" font-size="16.4" textLength="16.1" lengthAdjust="spacingAndGlyphs">at</text>
<text x="337.9" y="635.0" font-size="16.4" textLength="112.6" lengthAdjust="spacingAndGlyphs">2011−02−12</text>
<text x="459.9" y="635.0" font-size="16.4" textLength="48.4" lengthAdjust="spacingAndGlyphs">00:00</text>
<text x="515.6" y="635.0" font-size="16.4" textLength="28.7" lengthAdjust="spacingAndGlyphs">UT)</text>
</svg></body></html>
